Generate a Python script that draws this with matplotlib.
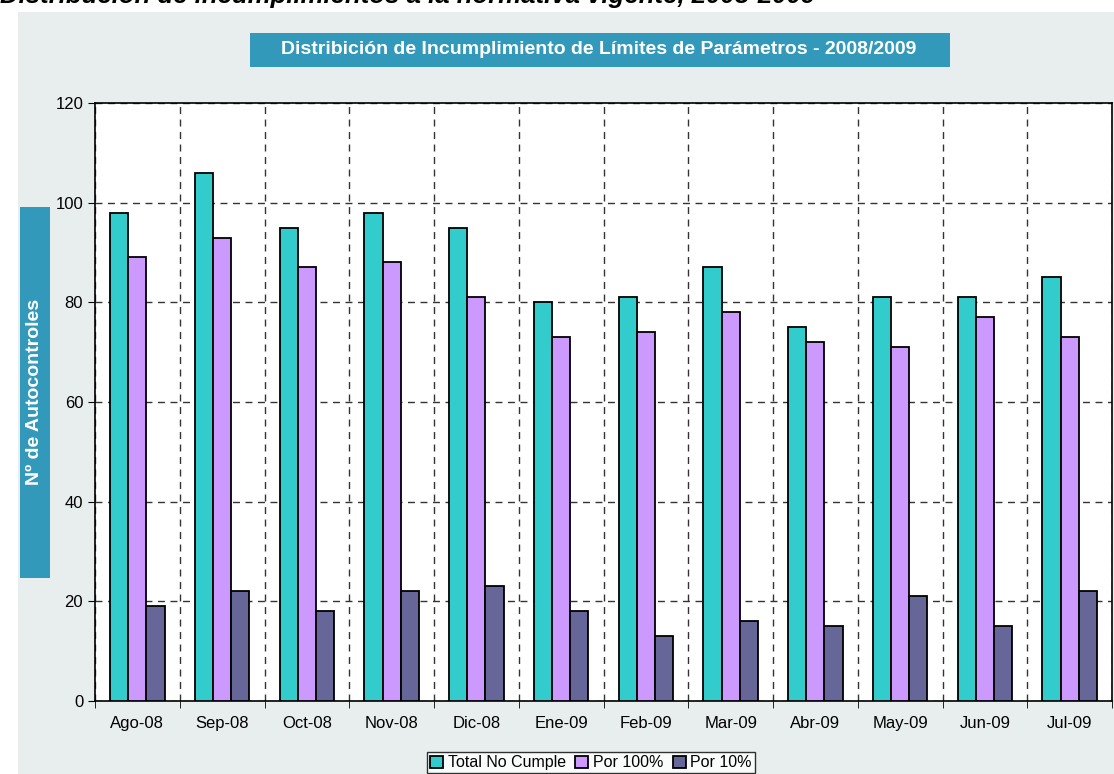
import numpy as np
import matplotlib.pyplot as plt
from matplotlib.patches import Rectangle

plt.rcParams["font.family"] = ["Liberation Sans", "DejaVu Sans"]

# data
months = ["Ago-08", "Sep-08", "Oct-08", "Nov-08", "Dic-08", "Ene-09",
          "Feb-09", "Mar-09", "Abr-09", "May-09", "Jun-09", "Jul-09"]
total_no_cumple = [98, 106, 95, 98, 95, 80, 81, 87, 75, 81, 81, 85]
por_100 = [89, 93, 87, 88, 81, 73, 74, 78, 72, 71, 77, 73]
por_10 = [19, 22, 18, 22, 23, 18, 13, 16, 15, 21, 15, 22]

series = [("Total No Cumple", total_no_cumple, "#33CCCC"),
          ("Por 100%", por_100, "#CC99FF"),
          ("Por 10%", por_10, "#666699")]

W, H = 1114, 774
fig = plt.figure(figsize=(W / 100, H / 100), dpi=100)
fig.patch.set_facecolor("white")


def fx(px):
    return px / W


def fy(py):
    return 1 - py / H


# light panel behind the chart
fig.patches.append(Rectangle((fx(18), 0), 1 - fx(18), fy(12), transform=fig.transFigure,
                             facecolor="#E8EEEE", edgecolor="none", zorder=0))

# page heading, cut off by the top edge
fig.text(0.0, fy(3), "Distribución de incumplimientos a la normativa vigente, 2008-2009",
         fontsize=18.5, fontweight="bold", fontstyle="italic", va="baseline", ha="left")

# title box
fig.patches.append(Rectangle((fx(250), fy(67)), fx(700), 34 / H, transform=fig.transFigure,
                             facecolor="#3399BB", edgecolor="none", zorder=1))
fig.text(fx(599), fy(49), "Distribición de Incumplimiento de Límites de Parámetros - 2008/2009",
         color="white", fontsize=14, fontweight="bold", ha="center", va="center", zorder=2)

# y-label box
fig.patches.append(Rectangle((fx(20), fy(578)), fx(30), 371 / H, transform=fig.transFigure,
                             facecolor="#3399BB", edgecolor="none", zorder=1))
fig.text(fx(35), fy(392), "Nº de Autocontroles", color="white", fontsize=14,
         fontweight="bold", rotation=90, ha="center", va="center", zorder=2)

ax = fig.add_axes([fx(95), fy(701), fx(1112 - 95), 598 / H])
ax.set_zorder(5)
ax.set_facecolor("white")

x = np.arange(len(months))
bw = 0.215
for i, (name, vals, col) in enumerate(series):
    ax.bar(x + (i - 1) * bw, vals, bw, color=col, edgecolor="black", linewidth=1.3,
           label=name, zorder=3)

ax.set_xlim(-0.5, len(months) - 0.5)
ax.set_ylim(0, 120)
ax.set_yticks(range(0, 121, 20))
ax.set_xticks(x)
ax.set_xticklabels(months, fontsize=12)
ax.tick_params(axis="x", length=0, pad=11)
ax.tick_params(axis="y", labelsize=12, length=5, direction="out")

# boundary ticks and dashed grid
ax.set_xticks(np.arange(-0.5, len(months)), minor=True)
ax.tick_params(axis="x", which="minor", length=5, direction="out")
ax.grid(True, axis="y", which="major", linestyle=(0, (5, 4)), color="#333333",
        linewidth=1, zorder=1)
ax.grid(True, axis="x", which="minor", linestyle=(0, (5, 4)), color="#333333",
        linewidth=1, zorder=1)
ax.grid(False, axis="x", which="major")
for s in ax.spines.values():
    s.set_linewidth(1.2)

leg = fig.legend(loc="upper center", bbox_to_anchor=(fx(591), fy(752)), ncol=3,
                 fontsize=11.5, frameon=True, fancybox=False, handlelength=0.8,
                 handleheight=0.8, handletextpad=0.3, columnspacing=0.6,
                 borderpad=0.2, borderaxespad=0)
leg.get_frame().set_edgecolor("black")
leg.get_frame().set_linewidth(1)

fig.savefig("out.png", dpi=100, facecolor=fig.get_facecolor())
